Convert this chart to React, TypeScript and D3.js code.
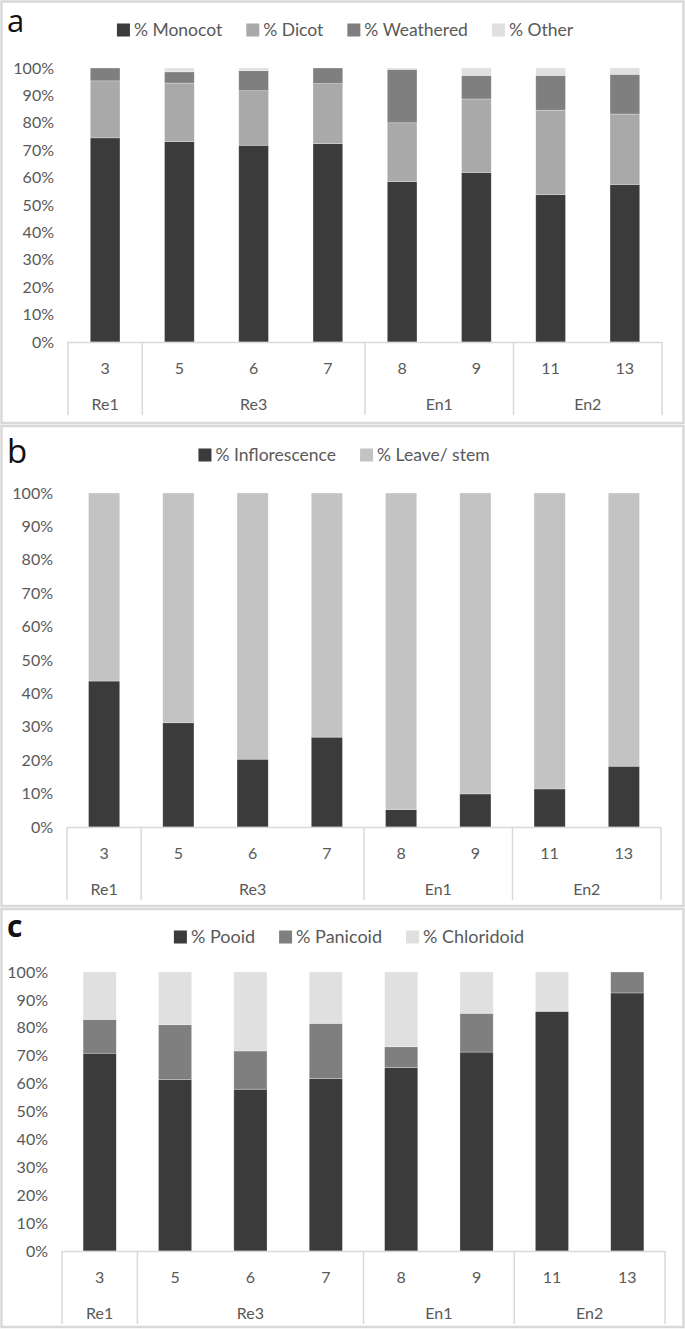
import React, { useEffect, useRef } from "react";
import * as d3 from "d3";

// ---- data ----
const categories = ["3", "5", "6", "7", "8", "9", "11", "13"];
const groupNames = ["Re1", "Re3", "En1", "En2"];
const groupSizes = [1, 3, 2, 2];
const yTicks = [0, 10, 20, 30, 40, 50, 60, 70, 80, 90, 100];

// panel a
const aKeys = ["% Monocot", "% Dicot", "% Weathered", "% Other"];
const aMonocot = [74.5, 73.1, 71.8, 72.4, 58.5, 61.9, 53.8, 57.5];
const aDicot = [20.8, 21.4, 19.9, 21.9, 21.5, 26.8, 30.8, 25.7];
const aWeathered = [4.7, 4.1, 7.3, 5.7, 19.5, 8.6, 12.7, 14.5];
const aOther = [0, 1.4, 1.0, 0, 0.5, 2.7, 2.7, 2.3];
const aColors = ["#3b3b3b", "#a9a9a9", "#7f7f7f", "#e0e0e0"];

// panel b
const bKeys = ["% Inflorescence", "% Leave/ stem"];
const bInflorescence = [43.7, 31.2, 20.3, 26.9, 5.2, 9.9, 11.4, 18.2];
const bLeaveStem = [56.3, 68.8, 79.7, 73.1, 94.8, 90.1, 88.6, 81.8];
const bColors = ["#3b3b3b", "#c3c3c3"];

// panel c
const cKeys = ["% Pooid", "% Panicoid", "% Chloridoid"];
const cPooid = [70.9, 61.4, 58.0, 61.8, 65.8, 71.3, 85.9, 92.5];
const cPanicoid = [12.1, 19.7, 13.7, 19.8, 7.4, 13.9, 0, 7.5];
const cChloridoid = [17.0, 18.9, 28.3, 18.4, 26.8, 14.8, 14.1, 0];
const cColors = ["#3b3b3b", "#7f7f7f", "#e0e0e0"];

const FONT = "Lato, 'Open Sans', sans-serif";
const TXT = "#595959";
const GRID = "#d9d9d9";

type Panel = {
  letter: string;
  letterSize: number;
  letterWeight: string;
  letterY: number;
  boxTop: number;
  boxBottom: number;
  legendY: number;
  legendSize: number;
  legendCenter: number;
  plotTop: number;
  plotBottom: number;
  axisLeft: number;
  axisRight: number;
  pad: number;
  keys: string[];
  series: number[][];
  colors: string[];
};

const panels: Panel[] = [
  {
    letter: "a", letterSize: 31, letterWeight: "normal", letterY: 32,
    boxTop: 1.5, boxBottom: 423, legendY: 30, legendSize: 17.5, legendCenter: 345,
    plotTop: 68, plotBottom: 342, axisLeft: 68, axisRight: 662, pad: 0.6,
    keys: aKeys, series: [aMonocot, aDicot, aWeathered, aOther], colors: aColors,
  },
  {
    letter: "b", letterSize: 33, letterWeight: "normal", letterY: 463,
    boxTop: 426, boxBottom: 906, legendY: 455, legendSize: 17.5, legendCenter: 344,
    plotTop: 493, plotBottom: 827, axisLeft: 67, axisRight: 661, pad: 0.58,
    keys: bKeys, series: [bInflorescence, bLeaveStem], colors: bColors,
  },
  {
    letter: "c", letterSize: 30, letterWeight: "bold", letterY: 937,
    boxTop: 909, boxBottom: 1327, legendY: 937, legendSize: 18, legendCenter: 349,
    plotTop: 972, plotBottom: 1251, axisLeft: 62, axisRight: 665, pad: 0.56,
    keys: cKeys, series: [cPooid, cPanicoid, cChloridoid], colors: cColors,
  },
];

export default function App() {
  const ref = useRef<SVGSVGElement>(null);

  useEffect(() => {
    const svg = d3.select(ref.current);
    svg.selectAll("*").remove();

    panels.forEach((p) => {
      const g = svg.append("g");
      // frame
      g.append("rect")
        .attr("x", 1.5).attr("y", p.boxTop)
        .attr("width", 682).attr("height", p.boxBottom - p.boxTop)
        .attr("fill", "#fff").attr("stroke", GRID).attr("stroke-width", 2.5);

      // letter
      g.append("text").attr("x", 7).attr("y", p.letterY)
        .attr("font-family", "'Open Sans', sans-serif").attr("font-size", p.letterSize)
        .attr("font-weight", p.letterWeight).attr("fill", "#111").text(p.letter);

      const x = d3.scaleBand<string>().domain(categories)
        .range([p.axisLeft, p.axisRight]).paddingInner(p.pad).paddingOuter(p.pad / 2);
      const y = d3.scaleLinear().domain([0, 100]).range([p.plotBottom, p.plotTop]);

      // y tick labels
      g.append("g").selectAll("text").data(yTicks).join("text")
        .attr("x", p.axisLeft - 14).attr("y", (d) => y(d))
        .attr("dy", "0.35em").attr("text-anchor", "end")
        .attr("font-family", FONT).attr("font-size", 16).attr("fill", TXT)
        .text((d) => d + "%");

      // stacked bars
      const rows = categories.map((c, i) => {
        const r: any = { cat: c };
        p.keys.forEach((k, j) => (r[k] = p.series[j][i]));
        return r;
      });
      const stacked = d3.stack<any>().keys(p.keys)(rows);
      stacked.forEach((layer, j) => {
        g.append("g").selectAll("rect").data(layer).join("rect")
          .attr("x", (d) => x(d.data.cat)!)
          .attr("width", x.bandwidth())
          .attr("y", (d) => y(d[1]))
          .attr("height", (d) => Math.max(0, y(d[0]) - y(d[1])))
          .attr("fill", p.colors[j])
          .attr("stroke", "#ffffff").attr("stroke-opacity", 0.45).attr("stroke-width", 0.6);
      });

      // category axis
      const ax = g.append("g");
      ax.append("line")
        .attr("x1", p.axisLeft).attr("x2", p.axisRight)
        .attr("y1", p.plotBottom + 0.5).attr("y2", p.plotBottom + 0.5)
        .attr("stroke", GRID).attr("stroke-width", 1.5);
      const bounds: number[] = [0];
      groupSizes.forEach((n) => bounds.push(bounds[bounds.length - 1] + n));
      const step = x.step();
      const bx = (k: number) => p.axisLeft + k * step;
      ax.selectAll("line.sep").data(bounds).join("line").attr("class", "sep")
        .attr("x1", (k) => bx(k)).attr("x2", (k) => bx(k))
        .attr("y1", p.plotBottom).attr("y2", p.plotBottom + 73)
        .attr("stroke", GRID).attr("stroke-width", 1.5);
      ax.selectAll("text.cat").data(categories).join("text").attr("class", "cat")
        .attr("x", (d) => x(d)! + x.bandwidth() / 2).attr("y", p.plotBottom + 26)
        .attr("dy", "0.35em").attr("text-anchor", "middle")
        .attr("font-family", FONT).attr("font-size", 16).attr("fill", TXT).text((d) => d);
      ax.selectAll("text.grp").data(groupNames).join("text").attr("class", "grp")
        .attr("x", (d, i) => (bx(bounds[i]) + bx(bounds[i + 1])) / 2)
        .attr("y", p.plotBottom + 62).attr("dy", "0.35em").attr("text-anchor", "middle")
        .attr("font-family", FONT).attr("font-size", 16).attr("fill", TXT).text((d) => d);

      // legend
      const lg = g.append("g");
      const items = p.keys.map((k, j) => {
        const it = lg.append("g");
        it.append("rect").attr("x", 0).attr("y", p.legendY - 6.5)
          .attr("width", 13).attr("height", 13).attr("fill", p.colors[j]);
        const t = it.append("text").attr("x", 17).attr("y", p.legendY).attr("dy", "0.35em")
          .attr("font-family", FONT).attr("font-size", p.legendSize).attr("fill", TXT).text(k);
        const w = 17 + (t.node() as SVGTextElement).getComputedTextLength();
        return { it, w };
      });
      const gap = 24;
      const total = d3.sum(items, (d) => d.w) + gap * (items.length - 1);
      let cx = p.legendCenter - total / 2;
      items.forEach((d) => {
        d.it.attr("transform", `translate(${cx},0)`);
        cx += d.w + gap;
      });
    });
  }, []);

  return (
    <svg ref={ref} width={685} height={1329}
      style={{ position: "absolute", left: 0, top: 0, display: "block", background: "#fff" }} />
  );
}
